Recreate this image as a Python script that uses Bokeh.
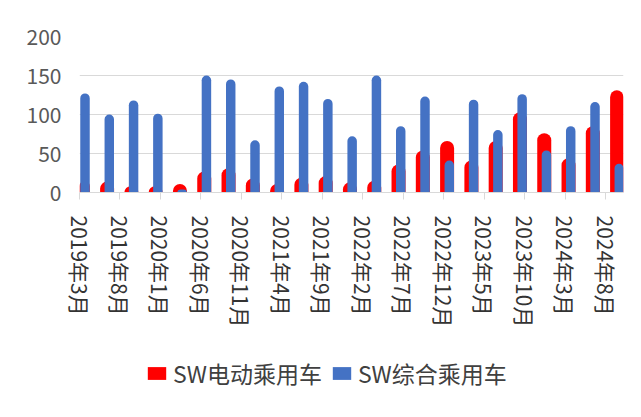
import re
from bokeh.plotting import figure
from bokeh.layouts import column
from bokeh.models import Legend, LegendItem, FixedTicker, Range1d, ColumnDataSource
from bokeh.transform import dodge
from bokeh.embed import file_html
from bokeh.resources import INLINE

# ---- data ----
periods = ["2019-03", "2019-06", "2019-09", "2019-12", "2020-03", "2020-06", "2020-09", "2020-12",
           "2021-03", "2021-06", "2021-09", "2021-12", "2022-03", "2022-06", "2022-09", "2022-12",
           "2023-03", "2023-06", "2023-09", "2023-12", "2024-03", "2024-06", "2024-09"]
ev_values = [15, 14, 8, 8, 11, 27, 31, 18, 11, 19, 21, 13, 15, 36, 54, 66, 41, 66, 103, 76, 44, 85, 131]
all_values = [127, 100, 118, 101, 4, 150, 145, 67, 136, 142, 120, 72, 150, 85, 123, 41, 119, 80, 126, 54, 85, 116, 37]
tick_labels = ["2019年3月", "2019年8月", "2020年1月", "2020年6月", "2020年11月", "2021年4月", "2021年9月",
               "2022年2月", "2022年7月", "2022年12月", "2023年5月", "2023年10月", "2024年3月", "2024年8月"]
y_ticks = [0, 50, 100, 150, 200]
series_names = ["SW电动乘用车", "SW综合乘用车"]
series_colors = ["#FF0000", "#4472C4"]

def month_index(y, m):
    return (y - 2019) * 12 + (m - 3)

m_idx = [month_index(int(p[:4]), int(p[5:])) for p in periods]
tick_pos = []
for t in tick_labels:
    y, m = re.match(r"(\d+)年(\d+)月", t).groups()
    tick_pos.append(month_index(int(y), int(m)))

src = ColumnDataSource(dict(m=m_idx, ev=ev_values, all=all_values))

FONT = "Noto Sans CJK SC"

p = figure(width=625, height=352, output_backend="svg", toolbar_location=None,
           x_range=Range1d(0, 67.2), y_range=Range1d(0, 200),
           min_border_left=79, min_border_right=2, min_border_top=36, min_border_bottom=160)
p.outline_line_color = None
p.background_fill_color = "white"
p.border_fill_color = "white"

p.vbar(x=dodge("m", 0.41), top="ev", bottom=0, width=1.73, source=src,
       fill_color=series_colors[0], line_color=None, border_radius=(7, 7, 0, 0))
p.vbar(x=dodge("m", 0.68), top="all", bottom=0, width=1.17, source=src,
       fill_color=series_colors[1], line_color=None, border_radius=(5, 5, 0, 0))

# axes
p.xaxis.ticker = FixedTicker(ticks=tick_pos)
p.xaxis.major_label_overrides = {tp: lab for tp, lab in zip(tick_pos, tick_labels)}
p.xaxis.major_label_orientation = "vertical"
p.xaxis.major_label_text_font = FONT
p.xaxis.major_label_text_font_size = "21px"
p.xaxis.major_label_text_color = "#333333"
p.xaxis.axis_line_color = "#D9D9D9"
p.xaxis.major_tick_line_color = "#D9D9D9"
p.xaxis.major_tick_out = 7
p.xaxis.major_tick_in = 0
p.xaxis.minor_tick_line_color = None
p.xaxis.major_label_standoff = 16

p.yaxis.ticker = FixedTicker(ticks=y_ticks)
p.yaxis.major_label_text_font = FONT
p.yaxis.major_label_text_font_size = "21px"
p.yaxis.major_label_text_color = "#595959"
p.yaxis.axis_line_color = None
p.yaxis.major_tick_line_color = None
p.yaxis.minor_tick_line_color = None
p.yaxis.major_label_standoff = 12

p.xgrid.grid_line_color = None
p.ygrid.grid_line_color = "#D9D9D9"
p.ygrid.grid_line_width = 1

# legend strip below the chart (hidden renderers only supply the legend keys)
lg = figure(width=625, height=48, output_backend="svg", toolbar_location=None,
            x_axis_location=None, y_axis_location=None,
            x_range=Range1d(0, 67.2), y_range=Range1d(0, 200), min_border=0)
lg.grid.grid_line_color = None
lg.outline_line_color = None
lg.border_fill_color = "white"
lg.background_fill_color = "white"
r1 = lg.vbar(x="m", top="ev", width=1, source=src, fill_color=series_colors[0],
             line_color=None, border_radius=3, visible=False)
r2 = lg.vbar(x="m", top="all", width=1, source=src, fill_color=series_colors[1],
             line_color=None, border_radius=3, visible=False)
legend = Legend(items=[LegendItem(label=series_names[0], renderers=[r1]),
                       LegendItem(label=series_names[1], renderers=[r2])],
                orientation="horizontal", location=(66, 10),
                border_line_color=None, background_fill_alpha=0,
                inactive_fill_alpha=0,
                label_text_font=FONT, label_text_font_size="23px", label_text_color="#404040",
                glyph_width=23, glyph_height=16, spacing=8, label_standoff=5,
                padding=0, margin=0)
lg.add_layout(legend, "center")

layout = column(p, lg, spacing=0)
open("out.html", "w").write(file_html(layout, INLINE))
